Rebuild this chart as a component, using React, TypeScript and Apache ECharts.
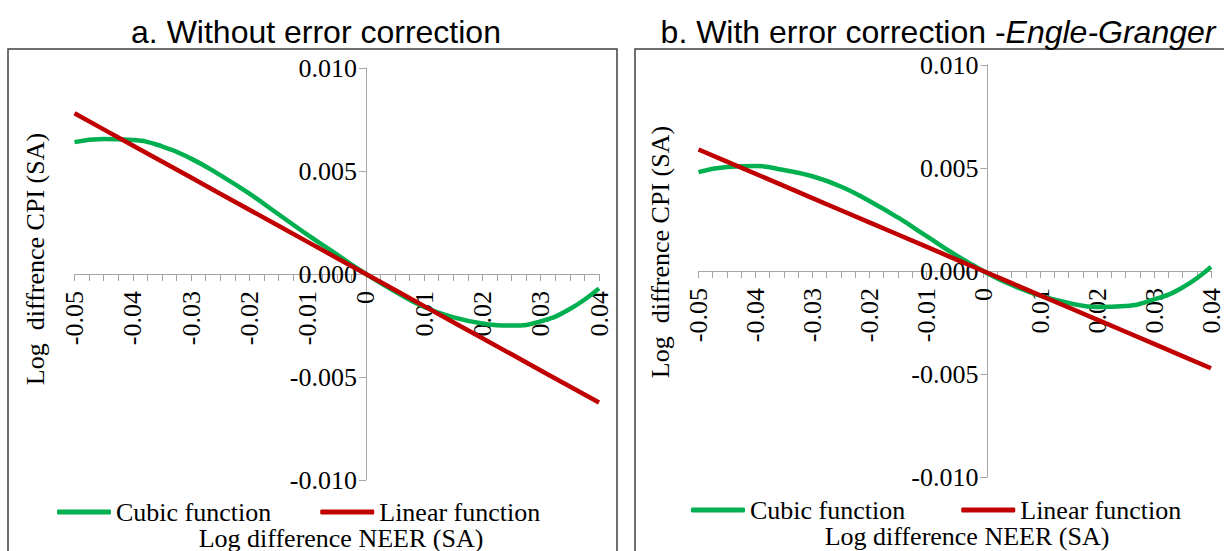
import React, { useEffect, useRef } from "react";
import * as echarts from "echarts";

const SERIF = '"Liberation Serif", "Times New Roman", serif';
const SANS = '"Liberation Sans", Arial, sans-serif';

const GREEN = "#00B050";
const RED = "#C00000";
const AXIS = "#a6a6a6";

// x values (log difference NEER)
const xValues = [
  -0.05, -0.045, -0.04, -0.035, -0.03, -0.025, -0.02, -0.015, -0.01, -0.005,
  0, 0.005, 0.01, 0.015, 0.02, 0.025, 0.03, 0.035, 0.04,
];

// Panel a: without error correction
const cubicA = [
  0.0064, 0.00655, 0.0065, 0.0062, 0.0056, 0.0048, 0.0039, 0.0029, 0.0019, 0.00095,
  0, -0.00085, -0.0016, -0.0021, -0.0024, -0.0025, -0.0023, -0.0017, -0.0007,
];
const linearA = [
  0.0078, 0.00702, 0.00624, 0.00546, 0.00468, 0.0039, 0.00312, 0.00234, 0.00156, 0.00078,
  0, -0.00078, -0.00156, -0.00234, -0.00312, -0.0039, -0.00468, -0.00546, -0.00624,
];

// Panel b: with error correction (Engle-Granger)
const cubicB = [
  0.0048, 0.00505, 0.0051, 0.0049, 0.0046, 0.0041, 0.0034, 0.0026, 0.0017, 0.0008,
  0, -0.00068, -0.0012, -0.00155, -0.00175, -0.0017, -0.00138, -0.0008, 0.0002,
];
const linearB = [
  0.0059, 0.00531, 0.00472, 0.00413, 0.00354, 0.00295, 0.00236, 0.00177, 0.00118, 0.00059,
  0, -0.00059, -0.00118, -0.00177, -0.00236, -0.00295, -0.00354, -0.00413, -0.00472,
];

const seriesNames = ["Cubic function", "Linear function"];
const titleA = "a. Without error correction";
const titleB = "b. With error correction -{i|Engle-Granger}";
const yName = "Log  diffrence CPI (SA)";
const xName = "Log difference NEER (SA)";

const X_MIN = -0.05;
const X_MAX = 0.04;
const Y_MIN = -0.01;
const Y_MAX = 0.01;

const xFmt = (v: number) => (Math.abs(v) < 1e-9 ? "0" : String(+v.toFixed(2)));
const yFmt = (v: number) => (Math.abs(v) < 1e-9 ? "0.000" : v.toFixed(3));

type G = { left: number; top: number; width: number; height: number };
const gridA: G = { left: 74.5, top: 68, width: 524.5, height: 412 };
const gridB: G = { left: 698.5, top: 65, width: 520, height: 412 };

function xAxis(gridIndex: number, g: G) {
  // move the bottom axis up to the y = 0 line
  const zeroFromBottom = ((0 - Y_MIN) / (Y_MAX - Y_MIN)) * g.height;
  return {
    type: "value",
    gridIndex,
    position: "bottom",
    offset: -zeroFromBottom,
    min: X_MIN,
    max: X_MAX,
    interval: 0.01,
    axisLine: { onZero: false, lineStyle: { color: AXIS, width: 1 } },
    axisTick: { show: true, inside: false, length: 7, lineStyle: { color: AXIS } },
    minorTick: { show: true, splitNumber: 4, length: 7, lineStyle: { color: AXIS } },
    axisLabel: {
      rotate: 90,
      margin: 17,
      fontFamily: SERIF,
      fontSize: 26,
      color: "#000",
      formatter: xFmt,
    },
    splitLine: { show: false },
    minorSplitLine: { show: false },
  };
}

function yAxis(gridIndex: number, g: G) {
  // move the left axis right to the x = 0 line
  const zeroFromLeft = ((0 - X_MIN) / (X_MAX - X_MIN)) * g.width;
  return {
    type: "value",
    gridIndex,
    position: "left",
    offset: -zeroFromLeft,
    min: Y_MIN,
    max: Y_MAX,
    interval: 0.005,
    axisLine: { onZero: false, lineStyle: { color: AXIS, width: 1 } },
    axisTick: { show: true, inside: false, length: 7, lineStyle: { color: AXIS } },
    axisLabel: {
      margin: 9,
      fontFamily: SERIF,
      fontSize: 26,
      color: "#000",
      formatter: yFmt,
    },
    splitLine: { show: false },
  };
}

function lineSeries(name: string, idx: number, ys: number[], color: string, smooth: boolean) {
  return {
    type: "line",
    name,
    xAxisIndex: idx,
    yAxisIndex: idx,
    data: xValues.map((x, i) => [x, ys[i]]),
    showSymbol: false,
    symbol: "none",
    smooth,
    lineStyle: { color, width: 4.5 },
    itemStyle: { color },
    z: 3,
  };
}

function legend(left: number, top: number, gap: number) {
  return {
    left,
    top,
    padding: 0,
    orient: "horizontal",
    itemWidth: 54,
    itemHeight: 5,
    itemGap: gap,
    icon: "roundRect",
    textStyle: { fontFamily: SERIF, fontSize: 26, lineHeight: 22, color: "#000" },
    data: seriesNames,
    selectedMode: false,
  };
}

function textEl(text: string, x: number, y: number, rotation = 0) {
  return {
    type: "text",
    x,
    y,
    rotation,
    silent: true,
    style: {
      text,
      font: `26px ${SERIF}`,
      lineHeight: 22,
      fill: "#000",
      textAlign: "center",
      textVerticalAlign: "middle",
    },
  };
}

export default function App() {
  const ref = useRef<HTMLDivElement>(null);

  useEffect(() => {
    if (!ref.current) return;
    const chart = echarts.init(ref.current, null, { renderer: "svg" });
    chart.setOption({
      animation: false,
      backgroundColor: "#fff",
      title: [
        {
          text: titleA,
          left: 311,
          top: 11,
          textAlign: "center",
          textStyle: { fontFamily: SANS, fontSize: 32, fontWeight: "normal", color: "#000" },
        },
        {
          text: titleB,
          left: 933,
          top: 11,
          textAlign: "center",
          textStyle: {
            fontFamily: SANS,
            fontSize: 32,
            fontWeight: "normal",
            color: "#000",
            rich: {
              i: { fontFamily: SANS, fontSize: 32, fontStyle: "italic", color: "#000" },
            },
          },
        },
      ],
      grid: [
        { ...gridA, containLabel: false },
        { ...gridB, containLabel: false },
      ],
      xAxis: [xAxis(0, gridA), xAxis(1, gridB)],
      yAxis: [yAxis(0, gridA), yAxis(1, gridB)],
      legend: [legend(57, 499, 49), legend(691, 497, 56)],
      series: [
        lineSeries(seriesNames[0], 0, cubicA, GREEN, true),
        lineSeries(seriesNames[1], 0, linearA, RED, false),
        lineSeries(seriesNames[0], 1, cubicB, GREEN, true),
        lineSeries(seriesNames[1], 1, linearB, RED, false),
      ],
      graphic: [
        {
          type: "rect",
          silent: true,
          z: -1,
          shape: { x: 8, y: 49, width: 609, height: 530 },
          style: { fill: "none", stroke: "#404040", lineWidth: 1.5 },
        },
        {
          type: "rect",
          silent: true,
          z: -1,
          shape: { x: 635, y: 49, width: 620, height: 530 },
          style: { fill: "none", stroke: "#404040", lineWidth: 1.5 },
        },
        textEl(yName, 35, 259, Math.PI / 2),
        textEl(yName, 660, 252, Math.PI / 2),
        textEl(xName, 341, 538),
        textEl(xName, 967, 536),
      ],
    });
    return () => chart.dispose();
  }, []);

  return (
    <div
      ref={ref}
      style={{ position: "absolute", left: 0, top: 0, width: 1224, height: 551 }}
    />
  );
}
